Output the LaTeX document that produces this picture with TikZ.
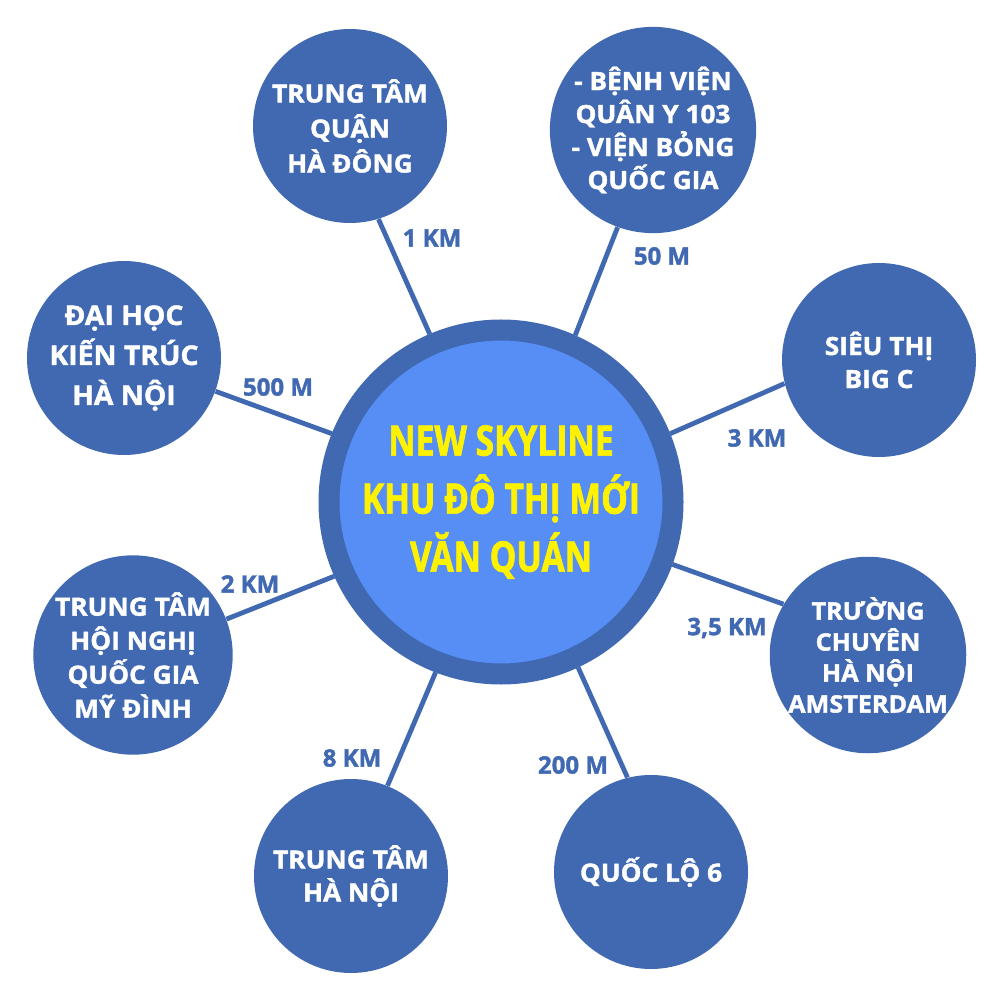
\documentclass[tikz,border=0pt]{standalone}
\usepackage{fontspec}
\setmainfont{Open Sans}
\newfontfamily\skylinefont{Open Sans}[FakeStretch=0.8]
\newfontfamily\placefont{Open Sans}[FakeStretch=1.05]
\newcommand\heavier{\bfseries\addfontfeatures{FakeBold=1.6}}

\definecolor{ringblue}{RGB}{65,105,178}
\definecolor{coreblue}{RGB}{86,142,245}
\definecolor{skyyellow}{RGB}{255,242,0}

\tikzset{
  place/.style={circle, fill=ringblue, minimum size=97pt, inner sep=0pt,
    text=white, align=center, font=\placefont\heavier\fontsize{12.5}{16.5}\selectfont},
  dist/.style={text=ringblue, font=\heavier\fontsize{12}{14}\selectfont},
  link/.style={ringblue, line width=2.4pt},
}

\begin{document}
\begin{tikzpicture}[x=0.5pt, y=-0.5pt]
    \useasboundingbox (0,0) rectangle (1000,999);

    \node[circle, fill=coreblue, draw=ringblue, line width=10.5pt, minimum size=172pt,
      text=skyyellow, align=center, font=\skylinefont\heavier\fontsize{21}{29}\selectfont]
      (skyline) at (501,502) {NEW SKYLINE\\KHU ĐÔ THỊ MỚI\\VĂN QUÁN};

    \node[place, font=\placefont\heavier\fontsize{12.5}{17.5}\selectfont] (hadong) at (350,126) {TRUNG TÂM\\QUẬN\\HÀ ĐÔNG};
    \node[place] (benhvien) at (653,130) {- BỆNH VIỆN\\QUÂN Y 103\\- VIỆN BỎNG\\QUỐC GIA};
    \node[place] (bigc) at (879,360) {SIÊU THỊ\\BIG C};
    \node[place, font=\placefont\heavier\fontsize{12}{15.5}\selectfont] (amsterdam) at (868,655) {TRƯỜNG\\CHUYÊN\\HÀ NỘI\\AMSTERDAM};
    \node[place] (quoclo) at (651,872) {QUỐC LỘ 6};
    \node[place] (hanoi) at (351,876) {TRUNG TÂM\\HÀ NỘI};
    \node[place, font=\placefont\heavier\fontsize{12.5}{17}\selectfont] (mydinh) at (133,655) {TRUNG TÂM\\HỘI NGHỊ\\QUỐC GIA\\MỸ ĐÌNH};
    \node[place, font=\placefont\heavier\fontsize{13.5}{20}\selectfont] (kientruc) at (124,358) {ĐẠI HỌC\\KIẾN TRÚC\\HÀ NỘI};

    \draw[link] (skyline.113) -- (hadong.287);
    \draw[link] (skyline.66) -- (benhvien.250);
    \draw[link] (skyline.22) -- (bigc.194);
    \draw[link] (skyline.-20) -- (amsterdam.149);
    \draw[link] (skyline.-65) -- (quoclo.104);
    \draw[link] (skyline.249) -- (hanoi.68);
    \draw[link] (skyline.204) -- (mydinh.21);
    \draw[link] (skyline.158) -- (kientruc.-20);

    \node[dist] (dhadong) at (432,238) {1 KM};
    \node[dist] (dbenhvien) at (662,256) {50 M};
    \node[dist] (dbigc) at (757,438) {3 KM};
    \node[dist] (damsterdam) at (727,628) {3,5 KM};
    \node[dist] (dquoclo) at (573,765) {200 M};
    \node[dist] (dhanoi) at (352,758) {8 KM};
    \node[dist] (dmydinh) at (250,584) {2 KM};
    \node[dist] (dkientruc) at (278,387) {500 M};
\end{tikzpicture}
\end{document}
